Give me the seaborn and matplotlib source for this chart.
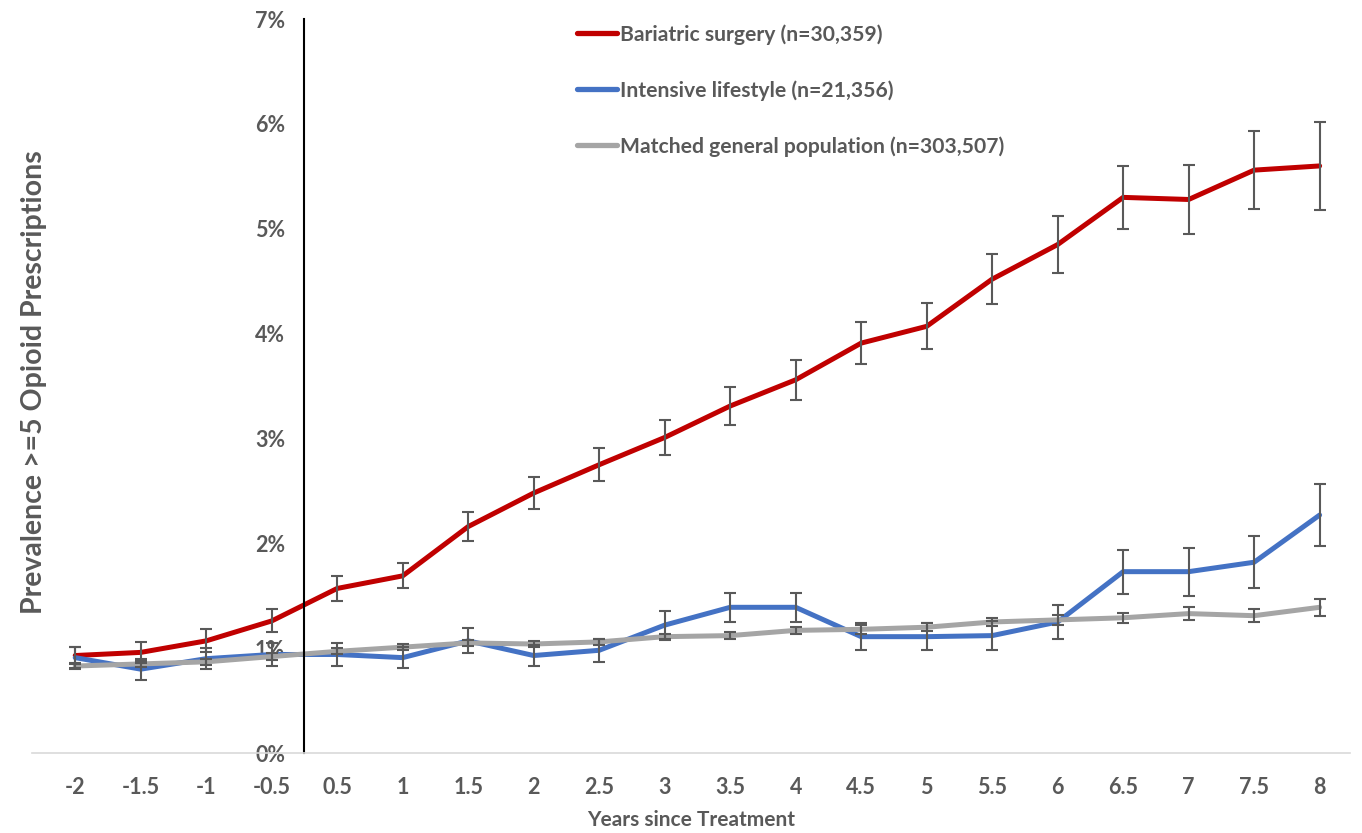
# -*- coding: utf-8 -*-

import pandas as pd
import seaborn as sns
import matplotlib.pyplot as plt
from matplotlib.ticker import FuncFormatter

# years since treatment (category axis, no 0)
years = ["-2", "-1.5", "-1", "-0.5", "0.5", "1", "1.5", "2", "2.5", "3",
         "3.5", "4", "4.5", "5", "5.5", "6", "6.5", "7", "7.5", "8"]

# prevalence in %
bariatric = [0.93, 0.96, 1.07, 1.26, 1.57, 1.69, 2.16, 2.48, 2.75, 3.01,
             3.31, 3.56, 3.91, 4.07, 4.52, 4.85, 5.30, 5.28, 5.56, 5.60]
bariatricErr = [0.08, 0.10, 0.11, 0.11, 0.12, 0.12, 0.14, 0.15, 0.16, 0.17,
                0.18, 0.19, 0.20, 0.22, 0.24, 0.27, 0.30, 0.33, 0.37, 0.42]

lifestyle = [0.91, 0.80, 0.90, 0.94, 0.94, 0.91, 1.07, 0.93, 0.98, 1.22,
             1.39, 1.39, 1.11, 1.11, 1.12, 1.25, 1.73, 1.73, 1.82, 2.27]
lifestyleErr = [0.10, 0.10, 0.10, 0.11, 0.11, 0.10, 0.12, 0.10, 0.11, 0.13,
                0.14, 0.14, 0.13, 0.13, 0.14, 0.16, 0.21, 0.23, 0.25, 0.30]

population = [0.83, 0.85, 0.87, 0.92, 0.97, 1.01, 1.05, 1.04, 1.06, 1.11,
              1.12, 1.17, 1.18, 1.20, 1.25, 1.27, 1.29, 1.33, 1.31, 1.39]
populationErr = [0.03, 0.03, 0.03, 0.03, 0.03, 0.03, 0.03, 0.03, 0.03, 0.03,
                 0.03, 0.03, 0.04, 0.04, 0.04, 0.05, 0.05, 0.06, 0.06, 0.08]

groupNames = ["Bariatric surgery (n=30,359)",
              "Intensive lifestyle (n=21,356)",
              "Matched general population (n=303,507)"]
groupColors = ["#C00000", "#4472C4", "#A5A5A5"]

textColor = "#595959"

sns.set_style("white")
plt.rcParams['font.family'] = ['Lato', 'DejaVu Sans']
plt.rcParams['font.weight'] = 'bold'

pos = list(range(len(years)))
rows = []
for name, vals in zip(groupNames, [bariatric, lifestyle, population]):
    for p, v in zip(pos, vals):
        rows.append({"pos": p, "value": v, "group": name})
df = pd.DataFrame(rows)

fig = plt.figure(figsize=(13.62, 8.33), dpi=100)
ax = fig.add_axes([0.0235, 0.096, 0.9675, 0.881])

sns.lineplot(data=df, x="pos", y="value", hue="group", hue_order=groupNames,
             palette=groupColors, linewidth=3.6, ax=ax, zorder=2)

for vals, errs in zip([bariatric, lifestyle, population],
                      [bariatricErr, lifestyleErr, populationErr]):
    ax.errorbar(pos, vals, yerr=errs, fmt='none', ecolor=textColor,
                elinewidth=1.5, capsize=4, capthick=1.5, zorder=3)

ax.set_xlim(-0.66, 19.46)
ax.set_ylim(0, 7)
ax.set_xticks(pos)
ax.set_xticklabels(years)
ax.set_yticks(range(0, 8))
ax.yaxis.set_major_formatter(FuncFormatter(lambda v, _: "{:.0f}%".format(v)))

# y axis sits between -0.5 and 0.5
for s in ["top", "right"]:
    ax.spines[s].set_visible(False)
ax.spines["left"].set_position(("data", 3.5))
ax.spines["left"].set_color("black")
ax.spines["left"].set_linewidth(1.5)
ax.spines["bottom"].set_color("#D9D9D9")
ax.spines["bottom"].set_linewidth(1.2)

ax.tick_params(axis="x", length=0, pad=17, labelsize=15.5, labelcolor=textColor)
ax.tick_params(axis="y", length=0, pad=14, labelsize=15.5, labelcolor=textColor)

ax.set_xlabel("Years since Treatment", fontsize=15, color=textColor,
              fontweight="bold", labelpad=9)
ax.set_ylabel("Prevalence >=5 Opioid Prescriptions", fontsize=20.5,
              color=textColor, fontweight="bold")
ax.yaxis.set_label_coords(0.011, 0.505)

leg = ax.legend(loc="upper left", bbox_to_anchor=(0.4236, 0.971),
                bbox_transform=fig.transFigure, frameon=False,
                fontsize=15.2, handlelength=1.9, handletextpad=0.12,
                labelspacing=1.68, borderpad=0, borderaxespad=0)
for t in leg.get_texts():
    t.set_color(textColor)
for h in leg.get_lines():
    h.set_linewidth(3.8)

fig.savefig("out.png", dpi=100)
